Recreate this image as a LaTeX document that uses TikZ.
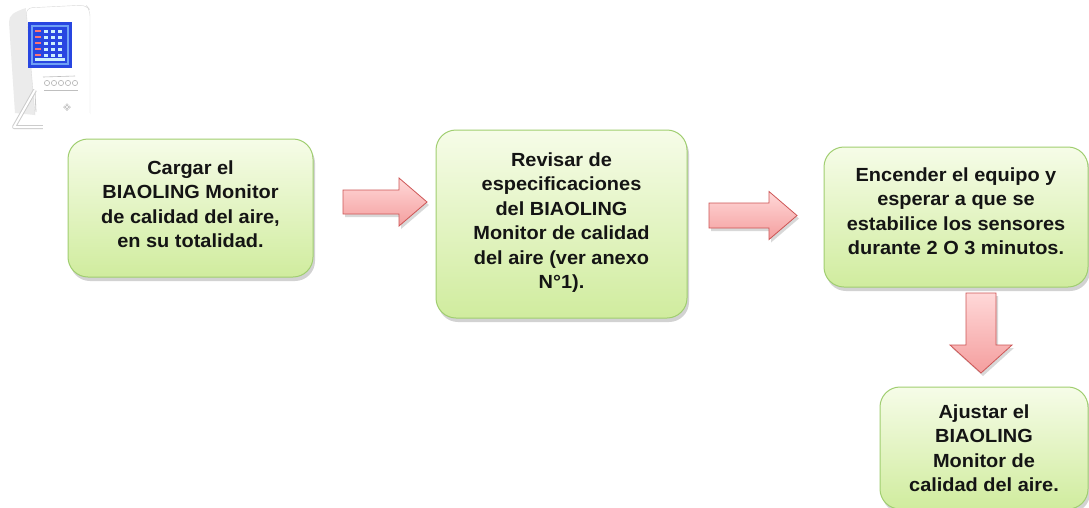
\documentclass[tikz,border=0pt]{standalone}
\usepackage{fontspec}
\setmainfont{Liberation Sans}[FakeStretch=1.05]
\usetikzlibrary{shadows,shadings,calc}

\definecolor{boxtop}{RGB}{246,252,232}
\definecolor{boxbot}{RGB}{208,236,158}
\definecolor{boxline}{RGB}{160,206,112}
\definecolor{arrtop}{RGB}{255,216,216}
\definecolor{arrbot}{RGB}{244,158,158}
\definecolor{arrline}{RGB}{205,85,85}
\definecolor{txt}{RGB}{20,20,20}
\definecolor{scrblue}{RGB}{40,70,225}
\definecolor{scrlight}{RGB}{110,160,245}

\tikzset{
  stepbox/.style={draw=boxline, line width=1pt, rounded corners=20pt,
    top color=boxtop, bottom color=boxbot, align=center, text=txt,
    font=\bfseries\fontsize{19}{24.5}\selectfont, inner sep=0pt,
    drop shadow={opacity=0.35, shadow xshift=2pt, shadow yshift=-4pt}},
  blockarrow/.style={draw=arrline, line width=0.8pt, line join=miter,
    top color=arrtop, bottom color=arrbot,
    drop shadow={opacity=0.3, shadow xshift=2pt, shadow yshift=-3pt}},
}

\begin{document}
\begin{tikzpicture}[x=1pt,y=-1pt]
\useasboundingbox (0,0) rectangle (1089,507);
\fill[white] (0,0) rectangle (1089,507);

% ---------- device picture ----------
% side face
\fill[gray!16] (9,22) .. controls (9,15) and (14,12) .. (26,8) -- (35,115) -- (15,113) -- cycle;
% front face
\fill[white] (26,8) -- (86,5) -- (90,10) -- (90,114) -- (35,115) -- cycle;
\draw[gray!30, rounded corners=6pt] (35,115) -- (26,8) -- (86,5) -- (90,10) -- (90,114);
\draw[gray!40, line width=0.8pt] (35,92) -- (36,112);
% stand
\draw[gray!40, line width=4pt, line join=round] (35,90) -- (14,127) -- (45,127);
\draw[white, line width=2pt, line join=round] (35,90) -- (14,127) -- (45,127);
% screen
\fill[scrblue] (28,22) rectangle (72,68);
\fill[scrlight] (31,25) rectangle (69,65);
\fill[scrblue] (33,27) rectangle (67,63);
\foreach \yy in {30,36,42,48,54} {
  \foreach \xx in {44,51,58} {
    \fill[white!80!cyan] (\xx,\yy) rectangle ++(4,3);
  }
  \fill[red!55] (35,\yy) rectangle ++(6,2);
}
\fill[white!80!cyan] (35,58) rectangle (65,61);
% buttons area
\draw[gray!50, line width=0.6pt] (43,77) -- (75,76);
\foreach \xx in {47,54,61,68,75} {
  \draw[gray!60, line width=0.6pt] (\xx,83) circle (2.6pt);
}
\draw[gray!50, line width=0.6pt] (44,90) -- (78,90);
% small logo
\foreach \a in {0,90,180,270} {
  \draw[gray!55, line width=0.5pt] (67,107) ++(\a:2.2pt) circle (1.2pt);
}
% cover
\fill[white] (43,113) rectangle (90,140);

% ---------- step boxes ----------
\node[stepbox, minimum width=245pt, minimum height=138pt] (s1) at (190.5,208)
  {Cargar el\\BIAOLING Monitor\\de calidad del aire,\\en su totalidad.\rule[-8pt]{0pt}{8pt}};
\node[stepbox, minimum width=251pt, minimum height=188pt] (s2) at (561.5,224)
  {Revisar de\\especificaciones\\del BIAOLING\\Monitor de calidad\\del aire (ver anexo\\N°1).\rule[-7pt]{0pt}{7pt}};
\node[stepbox, minimum width=264pt, minimum height=140pt] (s3) at (956,217)
  {Encender el equipo y\\esperar a que se\\estabilice los sensores\\durante 2 O 3 minutos.\rule[-12pt]{0pt}{12pt}};
\node[stepbox, minimum width=208pt, minimum height=122pt] (s4) at (984,448)
  {Ajustar el\\BIAOLING\\Monitor de\\calidad del aire.};

% ---------- block arrows ----------
\path[blockarrow] (343,190) -- (399,190) -- (399,178) -- (427,202) -- (399,226)
  -- (399,214) -- (343,214) -- cycle;
\path[blockarrow] (709,203) -- (769,203) -- (769,191.5) -- (797,215.5) -- (769,239.5)
  -- (769,228) -- (709,228) -- cycle;
\path[blockarrow] (966,293) -- (996,293) -- (996,345) -- (1012,345) -- (981,373)
  -- (950,345) -- (966,345) -- cycle;
\end{tikzpicture}
\end{document}
